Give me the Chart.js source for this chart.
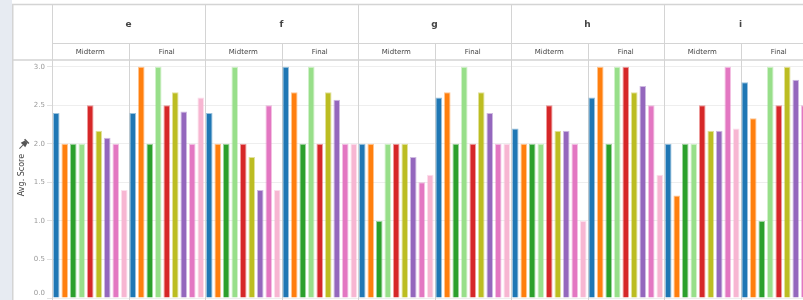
<!DOCTYPE html>
<html>
<head>
<meta charset="utf-8">
<script src="https://cdn.jsdelivr.net/npm/chart.js@4.4.1/dist/chart.umd.min.js"></script>
<style>
  html, body { margin: 0; padding: 0; background: #fff; overflow: hidden; width: 803px; height: 300px; }
  #strip { position: absolute; left: 0; top: 0; width: 12px; height: 300px; background: #e7ebf2; }
  #wrap { position: absolute; left: 12px; top: 0; width: 830px; height: 312px; }
</style>
</head>
<body>
<div id="strip"></div>
<div id="wrap"><canvas id="myChart"></canvas></div>
<script>
const facets = ["e", "f", "g", "h", "i"];
const terms = ["Midterm", "Final"];
const categories = facets.flatMap(f => terms.map(t => f + " " + t));
const yTicks = [0, 0.5, 1, 1.5, 2, 2.5, 3];
const yTitle = "Avg. Score";

// order: e Mid, e Final, f Mid, f Final, g Mid, g Final, h Mid, h Final, i Mid, i Final
const seriesNames = ["S1", "S2", "S3", "S4", "S5", "S6", "S7", "S8", "S9"];
const seriesColors = ["#1f77b4", "#ff7f0e", "#2ca02c", "#98df8a", "#d62728", "#bcbd22", "#9467bd", "#e377c2", "#f7b6d2"];
const s1 = [2.4, 2.4, 2.4, 3.0, 2.0, 2.6, 2.2, 2.6, 2.0, 2.8];
const s2 = [2.0, 3.0, 2.0, 2.67, 2.0, 2.67, 2.0, 3.0, 1.33, 2.33];
const s3 = [2.0, 2.0, 2.0, 2.0, 1.0, 2.0, 2.0, 2.0, 2.0, 1.0];
const s4 = [2.0, 3.0, 3.0, 3.0, 2.0, 3.0, 2.0, 3.0, 2.0, 3.0];
const s5 = [2.5, 2.5, 2.0, 2.0, 2.0, 2.0, 2.5, 3.0, 2.5, 2.5];
const s6 = [2.17, 2.67, 1.83, 2.67, 2.0, 2.67, 2.17, 2.67, 2.17, 3.0];
const s7 = [2.08, 2.42, 1.4, 2.57, 1.83, 2.4, 2.17, 2.75, 2.17, 2.83];
const s8 = [2.0, 2.0, 2.5, 2.0, 1.5, 2.0, 2.0, 2.5, 3.0, 2.5];
const s9 = [1.4, 2.6, 1.4, 2.0, 1.6, 2.0, 1.0, 1.6, 2.2, 2.0];
const seriesValues = [s1, s2, s3, s4, s5, s6, s7, s8, s9];

const FONT = '"DejaVu Sans", sans-serif';
const LINE = "#d4d4d4";

function hexAlpha(hex, a) {
    const n = parseInt(hex.slice(1), 16);
    return `rgba(${n >> 16}, ${(n >> 8) & 255}, ${n & 255}, ${a})`;
}

// header boxes, separators, axis title
const facetGrid = {
    id: "facetGrid",
    beforeDatasetsDraw(chart) {
        const ctx = chart.ctx;
        const area = chart.chartArea;
        const sub = chart.scales.xTerm;
        const top = chart.scales.xFacet;
        const step = (area.right - area.left) / categories.length;
        ctx.save();
        ctx.strokeStyle = LINE;
        ctx.lineWidth = 1;
        ctx.beginPath();
        for (let i = 0; i <= categories.length; i++) {
            const x = Math.round(area.left + i * step) + 0.5;
            const y0 = i % 2 === 0 ? top.top : sub.top;
            ctx.moveTo(x, y0);
            ctx.lineTo(x, chart.height);
        }
        ctx.moveTo(area.left, sub.top + 0.5);
        ctx.lineTo(chart.width, sub.top + 0.5);
        ctx.stroke();

        ctx.lineWidth = 1.5;
        ctx.beginPath();
        ctx.moveTo(0.75, top.top);
        ctx.lineTo(0.75, chart.height);
        ctx.moveTo(0, top.top + 0.5);
        ctx.lineTo(chart.width, top.top + 0.5);
        ctx.moveTo(0, area.top);
        ctx.lineTo(chart.width, area.top);
        ctx.stroke();
        ctx.restore();
    },
    afterDraw(chart) {
        const ctx = chart.ctx;
        const y = chart.scales.y;
        ctx.save();
        // zero label sits flush above the bottom
        ctx.font = "7px " + FONT;
        ctx.fillStyle = "#999";
        ctx.textAlign = "right";
        ctx.textBaseline = "middle";
        ctx.fillText((0).toFixed(1), y.right - 7, y.getPixelForValue(0) - 5);

        ctx.translate(10, 175);
        ctx.rotate(-Math.PI / 2);
        ctx.font = "8px " + FONT;
        ctx.fillStyle = "#444";
        ctx.textAlign = "center";
        ctx.fillText(yTitle, 0, 0);
        ctx.restore();

        // pin icon
        ctx.save();
        ctx.translate(11, 145);
        ctx.rotate(Math.PI / 4);
        ctx.fillStyle = "#555";
        ctx.strokeStyle = "#555";
        ctx.fillRect(-3, -6, 6, 1.5);
        ctx.beginPath();
        ctx.moveTo(-1.8, -4.5);
        ctx.lineTo(1.8, -4.5);
        ctx.lineTo(3.2, 0);
        ctx.lineTo(-3.2, 0);
        ctx.closePath();
        ctx.fill();
        ctx.lineWidth = 1;
        ctx.beginPath();
        ctx.moveTo(0, 0);
        ctx.lineTo(0, 5);
        ctx.stroke();
        ctx.restore();
    }
};

const ctx = document.getElementById("myChart").getContext("2d");
const myChart = new Chart(ctx, {
    type: "bar",
    data: {
        labels: categories,
        datasets: seriesValues.map((vals, i) => ({
            label: seriesNames[i],
            data: vals,
            backgroundColor: seriesColors[i],
            borderColor: hexAlpha(seriesColors[i], 0.45),
            borderWidth: 1,
            xAxisID: "xTerm",
            barPercentage: 0.78,
            categoryPercentage: 1.0
        }))
    },
    options: {
        responsive: true,
        maintainAspectRatio: false,
        animation: false,
        layout: { padding: { top: 4, left: 0, right: 25, bottom: 14 } },
        plugins: { legend: { display: false }, tooltip: { enabled: false } },
        scales: {
            xTerm: {
                type: "category",
                position: "top",
                weight: 0,
                labels: categories.map(c => c.split(" ")[1]),
                grid: { display: false, drawTicks: false },
                border: { display: false },
                ticks: { autoSkip: false, maxRotation: 0, color: "#444", font: { family: FONT, size: 7 }, padding: 4 },
                afterFit: s => { s.height = 17; }
            },
            xFacet: {
                type: "category",
                position: "top",
                weight: 1,
                offset: true,
                labels: facets,
                grid: { display: false, drawTicks: false },
                border: { display: false },
                ticks: { autoSkip: false, maxRotation: 0, color: "#444", font: { family: FONT, size: 9, weight: "bold" }, padding: 13 },
                afterFit: s => { s.height = 39; }
            },
            y: {
                min: 0,
                max: 3.087,
                grid: { color: "#eeeeee", tickLength: 5, tickColor: "#e2e2e2" },
                border: { display: false },
                afterBuildTicks: s => { s.ticks = yTicks.map(v => ({ value: v })); },
                ticks: {
                    color: "#999",
                    font: { family: FONT, size: 7 },
                    padding: 2,
                    callback: v => (v === 0 ? "" : Number(v).toFixed(1))
                },
                afterFit: s => { s.width = 40; }
            }
        }
    },
    plugins: [facetGrid]
});
</script>
</body>
</html>
